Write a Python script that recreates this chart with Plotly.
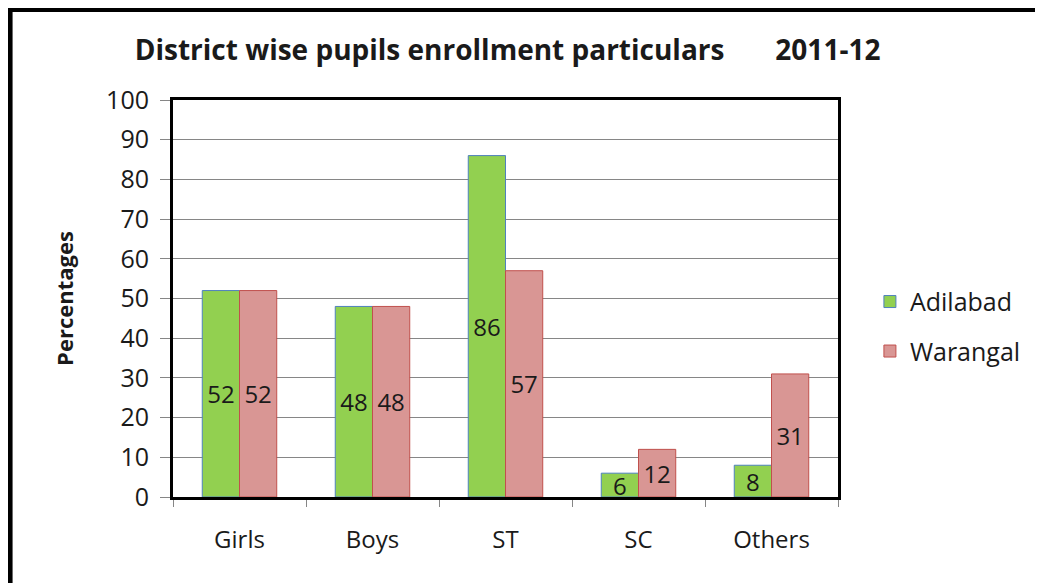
import plotly.graph_objects as go

# Data
categories = ['Girls', 'Boys', 'ST', 'SC', 'Others']
adilabad = [52, 48, 86, 6, 8]
warangal = [52, 48, 57, 12, 31]

FONT = 'Open Sans'
TXT = '#1a1a1a'

fig = go.Figure()
fig.add_trace(go.Bar(
    x=categories, y=adilabad, name='Adilabad',
    marker=dict(color='#92D050', line=dict(color='#4F81BD', width=1)),
    text=adilabad, textposition='inside', insidetextanchor='middle', textangle=0,
    textfont=dict(size=24, color=TXT, family=FONT),
    legendgroup='a',
))
fig.add_trace(go.Bar(
    x=categories, y=warangal, name='Warangal',
    marker=dict(color='#D99694', line=dict(color='#C0504D', width=1)),
    text=warangal, textposition='inside', insidetextanchor='middle', textangle=0,
    textfont=dict(size=24, color=TXT, family=FONT),
    legendgroup='b',
))

# the page body adds an 8px offset, margins compensate for it
fig.update_layout(
    width=1043, height=583,
    margin=dict(l=165, r=213, t=92, b=94),
    paper_bgcolor='white', plot_bgcolor='white',
    font=dict(family=FONT, size=24, color=TXT),
    barmode='group', bargap=0.44, bargroupgap=0,
    uniformtext=dict(minsize=24, mode='show'),
    title=dict(
        text='<b>District wise pupils enrollment particulars&nbsp;&nbsp;&nbsp;&nbsp;&nbsp;&nbsp;&nbsp;2011-12</b>',
        x=0.479, xanchor='center', y=0.928, yanchor='middle',
        font=dict(size=28, color=TXT, family=FONT),
    ),
    legend=dict(
        x=1.048, xanchor='left', y=0.43, yanchor='middle',
        font=dict(size=25, color=TXT, family=FONT),
        tracegroupgap=14, traceorder='grouped',
    ),
    xaxis=dict(
        showline=True, linecolor='black', linewidth=3, mirror=True,
        ticks='outside', tickson='boundaries', ticklen=7, tickcolor='#868686',
        tickfont=dict(size=24), ticklabelstandoff=19,
    ),
    yaxis=dict(
        range=[0, 100], dtick=10,
        showline=True, linecolor='black', linewidth=3, mirror=True,
        showgrid=True, gridcolor='#868686', gridwidth=1,
        ticks='outside', ticklen=10, tickcolor='#868686',
        tickfont=dict(size=25), ticklabelstandoff=6,
        title=dict(text='<b>Percentages</b>', font=dict(size=22), standoff=27),
    ),
    shapes=[dict(
        type='rect', xref='paper', yref='paper',
        x0=-0.245, x1=1.5, y0=-0.5, y1=1.228,
        line=dict(color='black', width=5), fillcolor='rgba(0,0,0,0)',
        layer='above',
    )],
)

fig.write_html('out.html')
